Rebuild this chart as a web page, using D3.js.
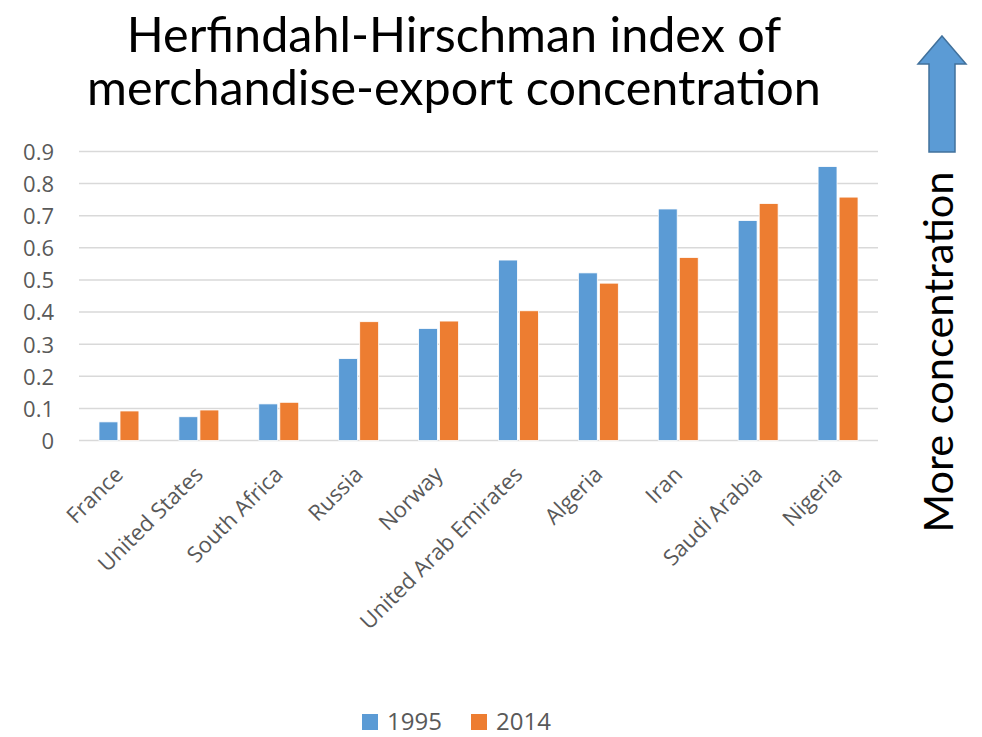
<!DOCTYPE html>
<html><head><meta charset="utf-8">
<script src="https://cdn.jsdelivr.net/npm/d3@7"></script>
<style>html,body{margin:0;padding:0;background:#fff;}svg{display:block;}</style>
</head><body>
<script>
const categories = ["France","United States","South Africa","Russia","Norway","United Arab Emirates","Algeria","Iran","Saudi Arabia","Nigeria"];
const series = ["1995","2014"];
const values1995 = [0.058,0.074,0.114,0.255,0.349,0.562,0.522,0.721,0.685,0.853];
const values2014 = [0.092,0.095,0.119,0.370,0.372,0.404,0.490,0.570,0.738,0.758];
const yTicks = [0,0.1,0.2,0.3,0.4,0.5,0.6,0.7,0.8,0.9];
const colors = ["#5B9BD5","#ED7D31"];
const titleLines = ["Herfindahl-Hirschman index of","merchandise-export concentration"];
const sideLabel = "More concentration";

const W = 982, H = 737;
const svg = d3.select("body").append("svg").attr("width", W).attr("height", H);

const x0 = d3.scaleBand().domain(categories).range([79, 878]).paddingInner(0.5).paddingOuter(0.25);
const x1 = d3.scaleBand().domain(series).range([0, x0.bandwidth()]).paddingInner(0.1);
const y = d3.scaleLinear().domain([0, 0.9]).range([440.5, 151.5]);

// gridlines
svg.append("g").selectAll("line").data(yTicks).join("line")
  .attr("x1", 79).attr("x2", 878)
  .attr("y1", d => y(d)).attr("y2", d => y(d))
  .attr("stroke", "#d9d9d9").attr("stroke-width", 1.5);

// y axis labels
const yAxis = d3.axisLeft(y).tickValues(yTicks).tickSize(0).tickPadding(0)
  .tickFormat(d => d === 0 ? "0" : d3.format(".1f")(d));
const gy = svg.append("g").attr("transform", "translate(54,0)").call(yAxis);
gy.select(".domain").remove();
gy.selectAll("text").attr("font-family", "'Open Sans', sans-serif").attr("font-size", 22).attr("fill", "#595959").attr("dy", "0.36em");

// bars
const data = categories.map((c, i) => ({c, vals: [values1995[i], values2014[i]]}));
const g = svg.append("g");
data.forEach(d => {
  d.vals.forEach((v, j) => {
    g.append("rect")
      .attr("x", x0(d.c) + x1(series[j]))
      .attr("y", y(v))
      .attr("width", x1.bandwidth())
      .attr("height", y(0) - y(v))
      .attr("fill", colors[j])
      .attr("stroke", "#ffffff").attr("stroke-width", 0.8);
  });
});

// x labels
const xAxis = d3.axisBottom(x0).tickSize(0).tickPadding(0);
const gx = svg.append("g").attr("transform", "translate(0,440.5)").call(xAxis);
gx.select(".domain").remove();
gx.selectAll(".tick text")
  .attr("font-family", "'Open Sans', sans-serif").attr("font-size", 22).attr("fill", "#595959")
  .attr("text-anchor", "end")
  .attr("transform", "translate(0,30) rotate(-45)")
  .attr("x", 0).attr("y", 0).attr("dy", "0.35em");

// title
svg.append("g").selectAll("text").data(titleLines).join("text")
  .attr("x", 454).attr("y", (d, i) => 52 + i * 53)
  .attr("text-anchor", "middle")
  .attr("font-family", "Lato, sans-serif").attr("font-size", 48.5).attr("fill", "#000")
  .text(d => d);

// legend
const leg = svg.append("g");
const legX = [362, 471];
series.forEach((s, i) => {
  leg.append("rect").attr("x", legX[i]).attr("y", 714).attr("width", 16).attr("height", 16).attr("fill", colors[i]);
  leg.append("text").attr("x", legX[i] + 25).attr("y", 730)
    .attr("font-family", "'Open Sans', sans-serif").attr("font-size", 24).attr("fill", "#595959").text(s);
});

// arrow
const arrowPts = [[942,36],[966,64],[955,64],[955,152],[929,152],[929,64],[918,64]];
svg.append("polygon").attr("points", arrowPts.map(p => p.join(",")).join(" "))
  .attr("fill", "#5B9BD5").attr("stroke", "#41719C").attr("stroke-width", 1.5);

svg.append("text").attr("transform", "translate(953,352) rotate(-90)")
  .attr("text-anchor", "middle")
  .attr("font-family", "Lato, sans-serif").attr("font-size", 41.5).attr("fill", "#000")
  .text(sideLabel);
</script>
</body></html>
